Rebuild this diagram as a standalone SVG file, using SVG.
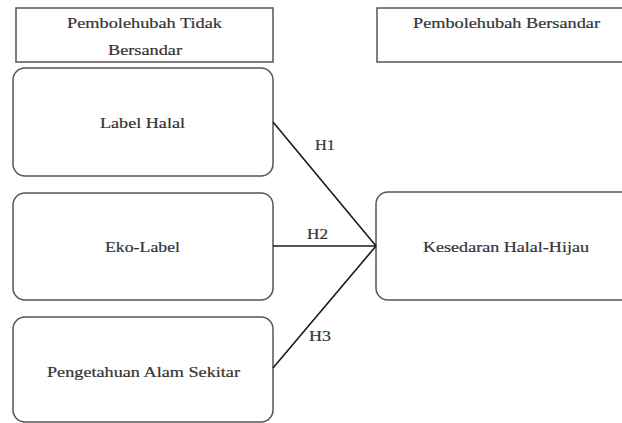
<svg xmlns="http://www.w3.org/2000/svg" width="622" height="423" viewBox="0 0 622 423">
<style>
.hdr{fill:#fff;stroke:#555;stroke-width:1.5}
.box{fill:#fff;stroke:#555;stroke-width:1.5}
.t{font-family:'Liberation Serif','DejaVu Serif',serif;font-size:15px;fill:#333;text-anchor:middle;stroke:#333;stroke-width:0.2}
.c{stroke:#1a1a1a;stroke-width:1.6;fill:none}
</style>
<rect width="622" height="423" fill="#fff"/>
<g id="header-left">
<rect class="hdr" x="16" y="8" width="257" height="54"/>
<text class="t" x="144.5" y="28" textLength="155" lengthAdjust="spacingAndGlyphs">Pembolehubah Tidak</text>
<text class="t" x="145" y="55" textLength="74" lengthAdjust="spacingAndGlyphs">Bersandar</text>
</g>
<g id="header-right">
<rect class="hdr" x="377" y="8" width="260" height="54"/>
<text class="t" x="506.5" y="28" textLength="187" lengthAdjust="spacingAndGlyphs">Pembolehubah Bersandar</text>
</g>
<g id="label-halal">
<rect class="box" x="13" y="68" width="260" height="108" rx="12"/>
<text class="t" x="142.5" y="128" textLength="85" lengthAdjust="spacingAndGlyphs">Label Halal</text>
</g>
<g id="eko-label">
<rect class="box" x="13" y="193" width="260" height="107" rx="12"/>
<text class="t" x="142.5" y="252" textLength="75" lengthAdjust="spacingAndGlyphs">Eko-Label</text>
</g>
<g id="pengetahuan">
<rect class="box" x="13" y="317" width="260" height="105" rx="12"/>
<text class="t" x="143.5" y="377" textLength="193" lengthAdjust="spacingAndGlyphs">Pengetahuan Alam Sekitar</text>
</g>
<g id="kesedaran">
<rect class="box" x="376" y="192" width="262" height="108" rx="12"/>
<text class="t" x="506" y="252" textLength="166" lengthAdjust="spacingAndGlyphs">Kesedaran Halal-Hijau</text>
</g>
<g id="connectors">
<line class="c" x1="273" y1="122" x2="376" y2="246"/>
<line class="c" x1="273" y1="246" x2="376" y2="246"/>
<line class="c" x1="273" y1="368" x2="376" y2="246"/>
<text class="t" x="325" y="150" textLength="20" lengthAdjust="spacingAndGlyphs">H1</text>
<text class="t" x="317.5" y="239" textLength="21" lengthAdjust="spacingAndGlyphs">H2</text>
<text class="t" x="320" y="341" textLength="22" lengthAdjust="spacingAndGlyphs">H3</text>
</g>
</svg>
